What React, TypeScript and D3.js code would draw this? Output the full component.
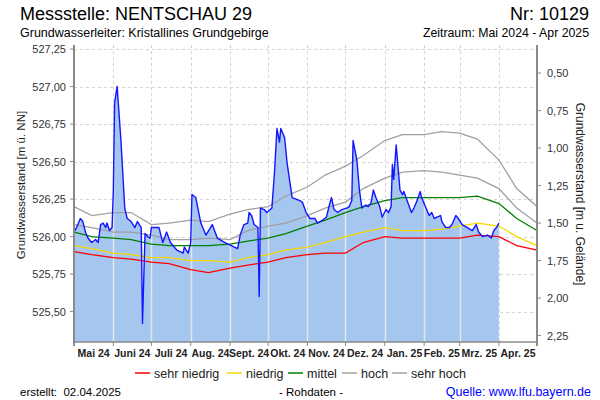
import React, { useEffect, useRef } from 'react';
import * as d3 from 'd3';

// Messwerte (Rohdaten), m ü. NN
const measuredDates = [
  '2024-05-01', '2024-05-03', '2024-05-06', '2024-05-08', '2024-05-10', '2024-05-12', '2024-05-15', '2024-05-18',
  '2024-05-20', '2024-05-22', '2024-05-24', '2024-05-26', '2024-05-27', '2024-05-29', '2024-05-31', '2024-06-01',
  '2024-06-02', '2024-06-04', '2024-06-07', '2024-06-10', '2024-06-12', '2024-06-15', '2024-06-18', '2024-06-20',
  '2024-06-23', '2024-06-24', '2024-06-26', '2024-06-28', '2024-06-30', '2024-07-01', '2024-07-04', '2024-07-07',
  '2024-07-10', '2024-07-13', '2024-07-16', '2024-07-21', '2024-07-26', '2024-07-27', '2024-07-30', '2024-08-01',
  '2024-08-02', '2024-08-05', '2024-08-09', '2024-08-13', '2024-08-18', '2024-08-22', '2024-08-28', '2024-09-02',
  '2024-09-07', '2024-09-09', '2024-09-12', '2024-09-15', '2024-09-16', '2024-09-18', '2024-09-20', '2024-09-23',
  '2024-09-24', '2024-09-25', '2024-09-28', '2024-09-30', '2024-10-04', '2024-10-06', '2024-10-08', '2024-10-10',
  '2024-10-11', '2024-10-14', '2024-10-16', '2024-10-20', '2024-10-26', '2024-10-28', '2024-10-31', '2024-11-03',
  '2024-11-07', '2024-11-09', '2024-11-13', '2024-11-16', '2024-11-18', '2024-11-20', '2024-11-22', '2024-11-25',
  '2024-11-28', '2024-12-02', '2024-12-04', '2024-12-06', '2024-12-07', '2024-12-10', '2024-12-12', '2024-12-14',
  '2024-12-17', '2024-12-19', '2024-12-21', '2024-12-23', '2024-12-25', '2024-12-28', '2024-12-30', '2025-01-02',
  '2025-01-04', '2025-01-06', '2025-01-07', '2025-01-08', '2025-01-10', '2025-01-11', '2025-01-13', '2025-01-15',
  '2025-01-16', '2025-01-19', '2025-01-22', '2025-01-24', '2025-01-26', '2025-01-29', '2025-01-30', '2025-02-02',
  '2025-02-05', '2025-02-07', '2025-02-09', '2025-02-11', '2025-02-14', '2025-02-15', '2025-02-18', '2025-02-21',
  '2025-02-23', '2025-02-26', '2025-02-28', '2025-03-03', '2025-03-07', '2025-03-11', '2025-03-14', '2025-03-16',
  '2025-03-19', '2025-03-23', '2025-03-26', '2025-03-28', '2025-03-30', '2025-04-01',
];
const measuredLevels = [
  526.03, 526.06, 526.12, 526.10, 526.03, 525.99, 525.96, 525.98,
  525.96, 526.08, 526.09, 526.06, 526.09, 526.04, 526.06, 526.30,
  526.89, 527.00, 526.64, 526.19, 526.12, 526.10, 526.06, 526.10,
  526.06, 525.42, 526.02, 526.00, 525.99, 526.06, 526.06, 526.06,
  525.96, 526.03, 525.96, 525.91, 525.89, 525.93, 525.89, 525.96,
  526.28, 526.26, 526.09, 526.01, 526.08, 525.99, 525.96, 525.94,
  525.92, 526.01, 526.08, 526.09, 526.16, 526.14, 526.08, 526.06,
  525.60, 526.19, 526.18, 526.16, 526.19, 526.42, 526.72, 526.63,
  526.72, 526.66, 526.49, 526.26, 526.24, 526.23, 526.16, 526.12,
  526.12, 526.09, 526.11, 526.13, 526.20, 526.26, 526.18, 526.16,
  526.18, 526.19, 526.20, 526.24, 526.64, 526.51, 526.31, 526.19,
  526.21, 526.20, 526.22, 526.31, 526.26, 526.20, 526.13, 526.18,
  526.16, 526.20, 526.48, 526.38, 526.61, 526.51, 526.31, 526.28,
  526.30, 526.23, 526.16, 526.19, 526.23, 526.30, 526.26, 526.20,
  526.14, 526.16, 526.12, 526.13, 526.14, 526.10, 526.06, 526.06,
  526.08, 526.14, 526.12, 526.08, 526.06, 526.04, 526.08, 526.03,
  526.00, 526.01, 525.99, 526.04, 526.06, 526.09,
];

// Kennwerte (Statistik) über das Jahr
const refDates = [
  '2024-05-01', '2024-05-15', '2024-06-01', '2024-06-15', '2024-07-01', '2024-07-15', '2024-08-01', '2024-08-15',
  '2024-09-01', '2024-09-15', '2024-10-01', '2024-10-15', '2024-11-01', '2024-11-15', '2024-12-01', '2024-12-15',
  '2025-01-01', '2025-01-15', '2025-02-01', '2025-02-15', '2025-03-01', '2025-03-15', '2025-04-01', '2025-04-15',
  '2025-05-01',
];
const sehrNiedrig = [
  525.90, 525.88, 525.86, 525.85, 525.83, 525.82, 525.78, 525.76, 525.79, 525.81, 525.83, 525.86, 525.88,
  525.89, 525.89, 525.96, 526.00, 525.99, 525.99, 525.99, 525.99, 526.01, 526.00, 525.94, 525.91,
];
const niedrig = [
  525.94, 525.92, 525.89, 525.88, 525.86, 525.86, 525.84, 525.84, 525.83, 525.86, 525.88, 525.91, 525.93,
  525.96, 526.00, 526.03, 526.06, 526.04, 526.04, 526.05, 526.07, 526.09, 526.07, 526.00, 525.94,
];
const mittel = [
  526.03, 526.00, 525.99, 525.98, 525.95, 525.94, 525.94, 525.94, 525.95, 525.97, 525.99, 526.02, 526.07,
  526.11, 526.16, 526.20, 526.24, 526.26, 526.26, 526.26, 526.26, 526.27, 526.22, 526.12, 526.04,
];
const hoch = [
  526.08, 526.06, 526.03, 526.03, 526.01, 525.98, 525.98, 525.99, 525.98, 526.04, 526.07, 526.09, 526.14,
  526.19, 526.23, 526.32, 526.39, 526.43, 526.44, 526.43, 526.41, 526.39, 526.32, 526.19, 526.09,
];
const sehrHoch = [
  526.20, 526.14, 526.16, 526.16, 526.08, 526.09, 526.11, 526.10, 526.15, 526.18, 526.20, 526.27, 526.33,
  526.41, 526.47, 526.54, 526.64, 526.68, 526.68, 526.70, 526.69, 526.65, 526.51, 526.32, 526.20,
];

const legendLabels = ['sehr niedrig', 'niedrig', 'mittel', 'hoch', 'sehr hoch'];
const monthLabels = [
  'Mai 24', 'Juni 24', 'Juli 24', 'Aug. 24', 'Sept. 24', 'Okt. 24',
  'Nov. 24', 'Dez. 24', 'Jan. 25', 'Feb. 25', 'Mrz. 25', 'Apr. 25',
];
const leftTicks = [525.5, 525.75, 526.0, 526.25, 526.5, 526.75, 527.0, 527.25];
const rightTicks = [0.5, 0.75, 1.0, 1.25, 1.5, 1.75, 2.0, 2.25];
const groundLevel = 527.59; // Geländehöhe, m ü. NN

const refColors = ['#ff0000', '#f5d800', '#008000', '#a0a0a0', '#a0a0a0'];
const FONT = 'Liberation Sans, Arial, sans-serif';

const App: React.FC = () => {
  const svgRef = useRef<SVGSVGElement>(null);

  useEffect(() => {
    if (!svgRef.current) return;
    const svg = d3.select(svgRef.current);
    svg.selectAll('*').remove();

    const W = 600;
    const H = 400;
    const left = 74;
    const right = 537;
    const top = 45;
    const bottom = 342;

    const parse = d3.utcParse('%Y-%m-%d');
    const start = parse('2024-05-01')!;
    const end = parse('2025-05-01')!;

    const x = d3.scaleUtc().domain([start, end]).range([left, right]);
    const y = d3.scaleLinear().domain([525.297, 527.277]).range([bottom, top]);

    svg.attr('width', W).attr('height', H).style('font-family', FONT);
    svg.append('rect').attr('width', W).attr('height', H).attr('fill', '#fff');

    const months = d3.utcMonth.range(start, d3.utcDay.offset(end, 1));

    // dashed grid
    const grid = svg.append('g')
      .attr('stroke', '#d4d4d4')
      .attr('stroke-dasharray', '3,3')
      .attr('stroke-width', 1);
    grid.selectAll('line.h')
      .data(leftTicks)
      .enter()
      .append('line')
      .attr('x1', left)
      .attr('x2', right)
      .attr('y1', d => Math.round(y(d)) + 0.5)
      .attr('y2', d => Math.round(y(d)) + 0.5);
    grid.selectAll('line.v')
      .data(months.slice(1, -1))
      .enter()
      .append('line')
      .attr('x1', d => Math.round(x(d)) + 0.5)
      .attr('x2', d => Math.round(x(d)) + 0.5)
      .attr('y1', top)
      .attr('y2', bottom);

    const measured = measuredDates.map((d, i) => ({ date: parse(d)!, value: measuredLevels[i] }));

    const area = d3.area<{ date: Date; value: number }>()
      .x(d => x(d.date))
      .y0(bottom)
      .y1(d => y(d.value));

    svg.append('clipPath').attr('id', 'fillClip')
      .append('path').datum(measured).attr('d', area);

    svg.append('path')
      .datum(measured)
      .attr('fill', '#a5c7ef')
      .attr('d', area);

    // solid light month lines inside the filled area
    svg.append('g')
      .attr('clip-path', 'url(#fillClip)')
      .selectAll('line')
      .data(months.slice(1, -1))
      .enter()
      .append('line')
      .attr('x1', d => Math.round(x(d)) + 0.5)
      .attr('x2', d => Math.round(x(d)) + 0.5)
      .attr('y1', top)
      .attr('y2', bottom)
      .attr('stroke', '#e2e6ea')
      .attr('stroke-width', 1.5);

    // reference lines
    const refSeries = [sehrNiedrig, niedrig, mittel, hoch, sehrHoch];
    const refLine = d3.line<number>()
      .x((_, i) => x(parse(refDates[i])!))
      .y(d => y(d));
    refSeries.forEach((s, i) => {
      svg.append('path')
        .datum(s)
        .attr('fill', 'none')
        .attr('stroke', refColors[i])
        .attr('stroke-width', 1.3)
        .attr('d', refLine);
    });

    const line = d3.line<{ date: Date; value: number }>()
      .x(d => x(d.date))
      .y(d => y(d.value));
    svg.append('path')
      .datum(measured)
      .attr('fill', 'none')
      .attr('stroke', '#1414ff')
      .attr('stroke-width', 1.4)
      .attr('stroke-linejoin', 'round')
      .attr('d', line);

    // axes lines
    const axisColor = '#8a8a8a';
    svg.append('line').attr('x1', left).attr('x2', left).attr('y1', top).attr('y2', bottom + 4)
      .attr('stroke', axisColor).attr('stroke-width', 2);
    svg.append('line').attr('x1', right).attr('x2', right).attr('y1', top).attr('y2', bottom + 4)
      .attr('stroke', axisColor).attr('stroke-width', 2);
    svg.append('line').attr('x1', left).attr('x2', right).attr('y1', bottom).attr('y2', bottom)
      .attr('stroke', axisColor).attr('stroke-width', 1.5);

    // left ticks
    const fmt = (v: number) => v.toFixed(2).replace('.', ',');
    const lt = svg.append('g');
    lt.selectAll('line').data(leftTicks).enter().append('line')
      .attr('x1', left - 4).attr('x2', left)
      .attr('y1', d => y(d)).attr('y2', d => y(d))
      .attr('stroke', axisColor);
    lt.selectAll('text').data(leftTicks).enter().append('text')
      .attr('x', left - 8).attr('y', d => y(d) + 4)
      .attr('text-anchor', 'end').attr('font-size', 11).attr('fill', '#333')
      .text(d => fmt(d));

    // right ticks (Flurabstand)
    const yr = (d: number) => y(groundLevel - d);
    const rt = svg.append('g');
    rt.selectAll('line').data(rightTicks).enter().append('line')
      .attr('x1', right).attr('x2', right + 4)
      .attr('y1', d => yr(d)).attr('y2', d => yr(d))
      .attr('stroke', axisColor);
    rt.selectAll('text').data(rightTicks).enter().append('text')
      .attr('x', right + 10).attr('y', d => yr(d) + 4)
      .attr('font-size', 11).attr('fill', '#333')
      .text(d => fmt(d));

    // bottom ticks and month labels
    const bt = svg.append('g');
    bt.selectAll('line').data(months).enter().append('line')
      .attr('x1', d => x(d)).attr('x2', d => x(d))
      .attr('y1', bottom).attr('y2', bottom + 4)
      .attr('stroke', axisColor);
    bt.selectAll('text').data(months.slice(0, 12)).enter().append('text')
      .attr('x', (d, i) => (x(d) + x(months[i + 1])) / 2)
      .attr('y', bottom + 15)
      .attr('text-anchor', 'middle').attr('font-size', 10.5).attr('font-weight', 'bold').attr('fill', '#222')
      .text((_, i) => monthLabels[i]);

    // axis titles
    svg.append('text')
      .attr('transform', `translate(25,185) rotate(-90)`)
      .attr('text-anchor', 'middle').attr('font-size', 11.5).attr('fill', '#222')
      .text('Grundwasserstand [m ü. NN]');
    svg.append('text')
      .attr('transform', `translate(576,194) rotate(90)`)
      .attr('text-anchor', 'middle').attr('font-size', 12).attr('fill', '#222')
      .text('Grundwasserstand [m u. Gelände]');

    // titles
    svg.append('text').attr('x', 20).attr('y', 20).attr('font-size', 18).attr('fill', '#000')
      .text('Messstelle: NENTSCHAU 29');
    svg.append('text').attr('x', 589).attr('y', 20).attr('font-size', 18).attr('fill', '#000')
      .attr('text-anchor', 'end').text('Nr: 10129');
    svg.append('text').attr('x', 20).attr('y', 37).attr('font-size', 12.5).attr('fill', '#000')
      .text('Grundwasserleiter: Kristallines Grundgebirge');
    svg.append('text').attr('x', 589).attr('y', 37).attr('font-size', 12.3).attr('fill', '#000')
      .attr('text-anchor', 'end').text('Zeitraum: Mai 2024 - Apr 2025');

    // legend
    const legendX = [135, 227, 288, 342, 392];
    const lg = svg.append('g');
    legendLabels.forEach((lab, i) => {
      lg.append('line')
        .attr('x1', legendX[i]).attr('x2', legendX[i] + 15)
        .attr('y1', 373).attr('y2', 373)
        .attr('stroke', refColors[i]).attr('stroke-width', 1.5);
      lg.append('text')
        .attr('x', legendX[i] + 19).attr('y', 377.5)
        .attr('font-size', 12.5).attr('fill', '#222')
        .text(lab);
    });

    // footer
    svg.append('text').attr('x', 20).attr('y', 396).attr('font-size', 11.5).attr('fill', '#000')
      .attr('xml:space', 'preserve').text('erstellt:  02.04.2025');
    svg.append('text').attr('x', 311).attr('y', 396).attr('font-size', 11.5).attr('fill', '#000')
      .attr('text-anchor', 'middle').text('- Rohdaten -');
    svg.append('text').attr('x', 591).attr('y', 396).attr('font-size', 12.5).attr('fill', '#0000ff')
      .attr('text-anchor', 'end').text('Quelle: www.lfu.bayern.de');
  }, []);

  return (
    <div style={{ position: 'absolute', left: 0, top: 0 }}>
      <svg ref={svgRef}></svg>
    </div>
  );
};

export default App;
